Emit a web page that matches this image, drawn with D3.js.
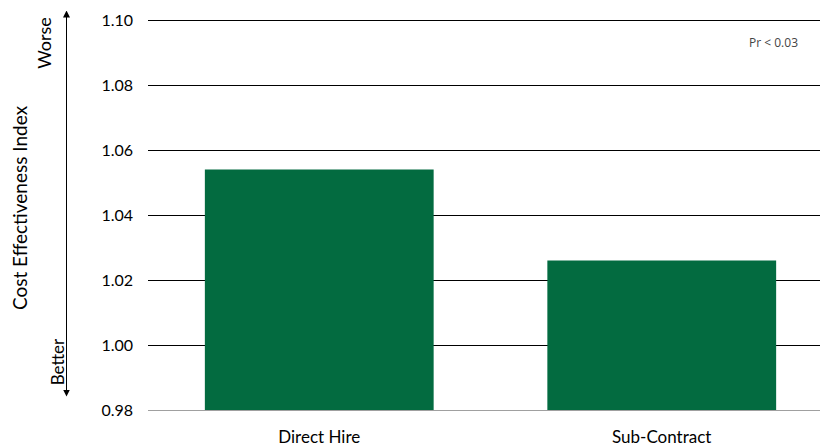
<!DOCTYPE html>
<html lang="en">
<head>
  <meta charset="UTF-8">
  <title>Cost Effectiveness Index</title>
  <script src="https://d3js.org/d3.v7.min.js"></script>
  <style>
    body { margin: 0; background: #fff; }
    text { font-family: Lato, "Open Sans", sans-serif; fill: #000; }
  </style>
</head>
<body>

<div id="chart"></div>

<script>
  // Data
  const categories = ["Direct Hire", "Sub-Contract"];
  const values = [1.054, 1.026];
  const tickValues = [0.98, 1.00, 1.02, 1.04, 1.06, 1.08, 1.10];

  const width = 820;
  const height = 447;

  // plot area (right side runs past the window, like the original crop)
  const plotLeft = 148, plotRight = 833, plotTop = 20, plotBottom = 410;

  const svg = d3.select("#chart")
    .append("svg")
    .attr("width", width)
    .attr("height", height);

  const y = d3.scaleLinear()
    .domain([0.98, 1.10])
    .range([plotBottom, plotTop]);

  const x = d3.scaleBand()
    .domain(categories)
    .range([plotLeft, plotRight])
    .paddingInner(0.332)
    .paddingOuter(0.166);

  // gridlines
  svg.append("g")
    .selectAll("line")
    .data(tickValues)
    .enter()
    .append("line")
    .attr("x1", plotLeft)
    .attr("x2", width)
    .attr("y1", d => Math.round(y(d)) + 0.5)
    .attr("y2", d => Math.round(y(d)) + 0.5)
    .attr("stroke", d => d === 0.98 ? "#a0a0a0" : "#000")
    .attr("stroke-width", 1);

  // tick labels
  svg.append("g")
    .selectAll("text")
    .data(tickValues)
    .enter()
    .append("text")
    .attr("x", 133)
    .attr("y", d => y(d))
    .attr("dy", "0.35em")
    .attr("text-anchor", "end")
    .style("font-size", "16px")
    .text(d => d3.format(".2f")(d));

  // bars
  svg.append("g")
    .selectAll("rect")
    .data(values)
    .enter()
    .append("rect")
    .attr("x", (d, i) => x(categories[i]))
    .attr("width", x.bandwidth())
    .attr("y", d => y(d))
    .attr("height", d => y(0.98) - y(d))
    .attr("fill", "#036b40");

  // category labels
  svg.append("g")
    .selectAll("text")
    .data(categories)
    .enter()
    .append("text")
    .attr("x", d => x(d) + x.bandwidth() / 2)
    .attr("y", 443)
    .attr("text-anchor", "middle")
    .style("font-size", "17px")
    .text(d => d);

  // y axis title
  svg.append("text")
    .attr("transform", "translate(27,208) rotate(-90)")
    .attr("text-anchor", "middle")
    .style("font-size", "19px")
    .text("Cost Effectiveness Index");

  // Worse / Better arrow
  const defs = svg.append("defs");
  defs.append("marker")
    .attr("id", "head")
    .attr("viewBox", "0 0 10 10")
    .attr("refX", 5).attr("refY", 5)
    .attr("markerWidth", 7).attr("markerHeight", 9)
    .attr("orient", "auto-start-reverse")
    .append("path")
    .attr("d", "M0,0 L10,5 L0,10 z")
    .attr("fill", "#000");

  svg.append("line")
    .attr("x1", 66.5).attr("x2", 66.5)
    .attr("y1", 14).attr("y2", 393)
    .attr("stroke", "#000")
    .attr("stroke-width", 1)
    .attr("marker-start", "url(#head)")
    .attr("marker-end", "url(#head)");

  svg.append("text")
    .attr("transform", "translate(51,43) rotate(-90)")
    .attr("text-anchor", "middle")
    .style("font-size", "18px")
    .text("Worse");

  svg.append("text")
    .attr("transform", "translate(64,362) rotate(-90)")
    .attr("text-anchor", "middle")
    .style("font-size", "17px")
    .text("Better");

  // significance note
  svg.append("text")
    .attr("x", 798)
    .attr("y", 47)
    .attr("text-anchor", "end")
    .style("font-size", "12px")
    .style("fill", "#444")
    .style("font-family", "'Open Sans', sans-serif")
    .text("Pr < 0.03");
</script>

</body>
</html>
